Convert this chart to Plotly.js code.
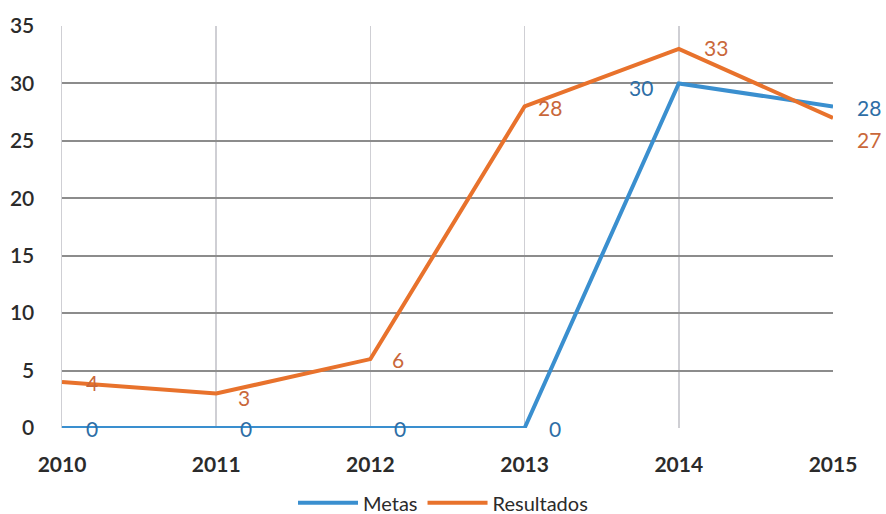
<!DOCTYPE html>
<html><head><meta charset="utf-8">
<script src="https://cdn.plot.ly/plotly-3.0.1.min.js"></script>
<style>html,body{margin:0;padding:0;background:#fff}#c{width:886px;height:514px}</style>
</head><body><div id="c"></div>
<script>
const years = [2010, 2011, 2012, 2013, 2014, 2015];
const metas = [0, 0, 0, 0, 30, 28];
const resultados = [4, 3, 6, 28, 33, 27];
const yTicks = [0, 5, 10, 15, 20, 25, 30, 35];

// label offsets in pixels (style, not data)
const metasShift = [[30,0],[30,0],[30,0],[30,0],[-38,-4],[36,-1]];
const resShift = [[30,0],[28,-4],[28,0],[25,-1],[37,1],[36,-22]];

const blue = '#3A8FCF', orange = '#E8722C';
const annotations = [];
years.forEach((yr,i)=>{
  annotations.push({x:yr, y:metas[i], text:String(metas[i]), showarrow:false,
    xshift:metasShift[i][0], yshift:metasShift[i][1], font:{size:21,color:'#2E6EA6',family:'Lato, sans-serif'}});
  annotations.push({x:yr, y:resultados[i], text:String(resultados[i]), showarrow:false,
    xshift:resShift[i][0], yshift:resShift[i][1], font:{size:21,color:'#C9673A',family:'Lato, sans-serif'}});
});

const data = [
  {x:years, y:metas, name:'Metas', mode:'lines', line:{color:blue,width:4}, cliponaxis:false},
  {x:years, y:resultados, name:'Resultados', mode:'lines', line:{color:orange,width:4}, cliponaxis:false}
];
const layout = {
  width:886, height:514,
  margin:{l:62, r:53, t:26, b:86},
  paper_bgcolor:'#fff', plot_bgcolor:'#fff',
  font:{family:'Lato, sans-serif', color:'#333'},
  xaxis:{range:[2010,2015], tickvals:years, ticktext:years.map(String),
    tickfont:{size:21, color:'#2b2b2b', family:'Lato, sans-serif', weight:'bold'},
    showgrid:true, gridcolor:'#cfcfd4', gridwidth:1.5, zeroline:false, showline:false,
    ticks:'', ticklabelstandoff:22, fixedrange:true, automargin:false},
  yaxis:{range:[0,35], tickvals:yTicks, tickfont:{size:21, color:'#2b2b2b', weight:600},
    showgrid:true, gridcolor:'#8c8c8c', gridwidth:2, zeroline:false, automargin:false,
    showline:true, linecolor:'#cfcfd4', linewidth:1.5, ticks:'', ticklabelstandoff:22},
  legend:{orientation:'h', x:0.5, xanchor:'center', xref:'container', yref:'container', y:0.022, yanchor:'middle',
    font:{size:20, color:'#2b2b2b'}, itemwidth:60, traceorder:'normal'},
  annotations:annotations,
  showlegend:true
};
Plotly.newPlot('c', data, layout, {displayModeBar:false, staticPlot:true});
</script></body></html>
